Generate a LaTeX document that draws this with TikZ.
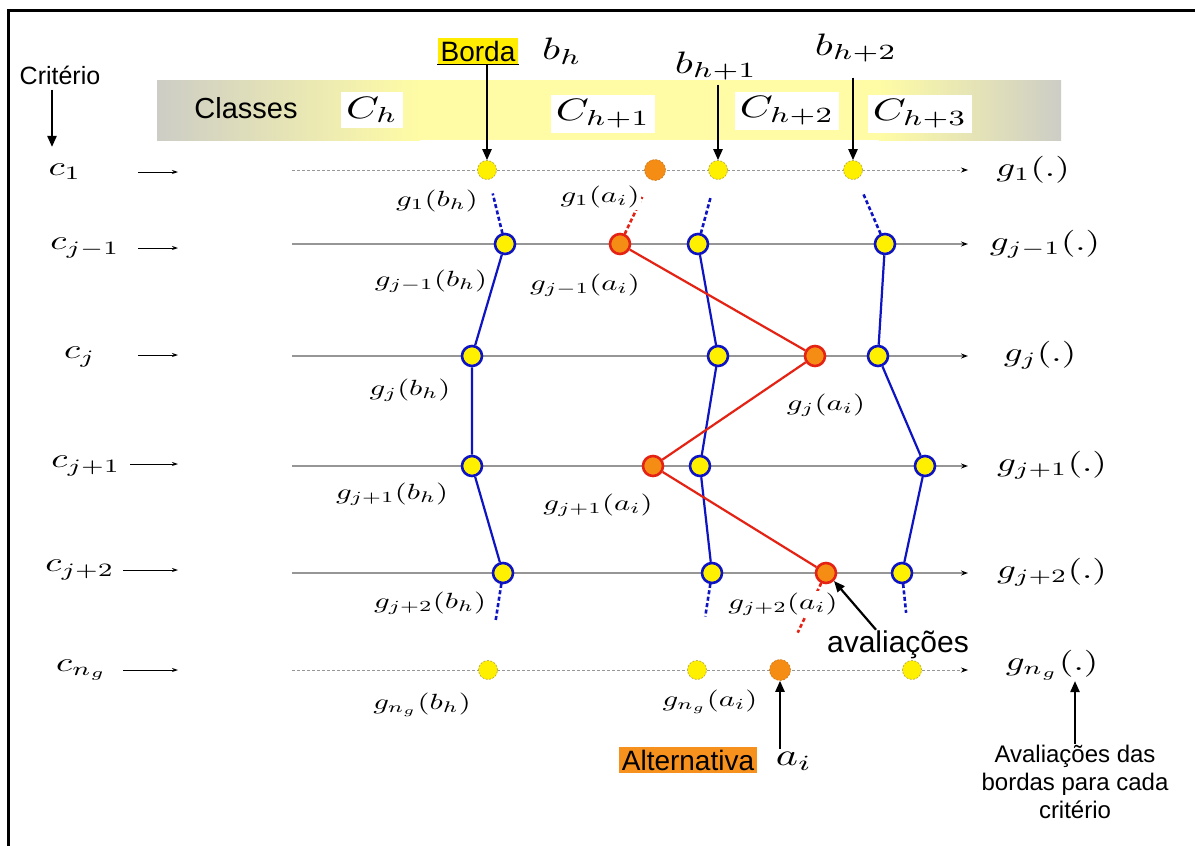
\documentclass[tikz,border=0pt]{standalone}
\usepackage{fontspec}
\setsansfont{Liberation Sans}
\usepackage{graphicx}
\usetikzlibrary{arrows.meta,calc}
\definecolor{ptyellow}{RGB}{255,240,0}
\definecolor{ptorange}{RGB}{245,140,20}
\definecolor{ptblue}{RGB}{15,20,195}
\definecolor{ptred}{RGB}{228,35,20}
\definecolor{bandgray}{RGB}{205,205,198}
\definecolor{bandyellow}{RGB}{255,252,165}
\definecolor{axisgray}{RGB}{150,150,150}
\definecolor{ydash}{RGB}{175,160,60}
\definecolor{bordayellow}{RGB}{255,236,0}
\definecolor{altorange}{RGB}{247,145,30}
\newcommand{\ptm}[1]{\scalebox{3.08}[2.2]{$#1$}}
\newcommand{\rtm}[1]{\scalebox{3.7}[2.7]{$#1$}}
\newcommand{\ttm}[1]{\scalebox{4.2}[3.1]{$#1$}}
\begin{document}
\begin{tikzpicture}[x=1pt,y=-1pt,
  axis/.style={draw=axisgray, line width=1.6pt, -{Stealth[length=7pt,width=5pt,black]}},
  daxis/.style={draw=axisgray, line width=0.8pt, dash pattern=on 3pt off 2pt, -{Stealth[length=7pt,width=5pt,black]}},
  bigarrow/.style={draw=black, line width=2.2pt, -{Triangle[length=11pt,width=9pt]}},
  smallarrow/.style={draw=black, line width=0.9pt, -{Stealth[length=6pt,width=4pt]}},
  ydpt/.style={circle, fill=ptyellow, draw=ydash, line width=0.6pt, dash pattern=on 2pt off 1.5pt, minimum size=19pt, inner sep=0pt},
  odpt/.style={circle, fill=ptorange, draw=ptorange!80!black, line width=0.5pt, dash pattern=on 2pt off 1.5pt, minimum size=21pt, inner sep=0pt},
  ybpt/.style={circle, fill=ptyellow, draw=ptblue, line width=2.6pt, minimum size=20pt, inner sep=0pt},
  robpt/.style={circle, fill=ptorange, draw=ptred, line width=2.6pt, minimum size=20pt, inner sep=0pt},
  bline/.style={draw=ptblue, line width=2.2pt},
  rline/.style={draw=ptred, line width=2.2pt},
  bstub/.style={draw=ptblue, line width=2.6pt, dash pattern=on 4pt off 2.5pt},
  rstub/.style={draw=ptred, line width=2.6pt, dash pattern=on 4pt off 2.5pt},
  pl/.style={inner sep=1.5pt, fill=white},
  rl/.style={inner sep=1pt},
  tl/.style={inner sep=1pt},
  cbox/.style={fill=white, inner sep=5pt},
  sans/.style={inner sep=1pt, font=\sffamily\fontsize{25}{29}\selectfont},
]
\useasboundingbox (0,0) rectangle (1195,846);
\fill[white] (0,0) rectangle (1195,846);
\draw[line width=3pt] (8,846) -- (8,10) -- (1195,10);

% class band
\shade[left color=bandgray, right color=bandyellow] (157,80) rectangle (420,140);
\fill[bandyellow] (419,80) rectangle (880,140);
\shade[left color=bandyellow, right color=bandgray] (879,80) rectangle (1061,140);
\node[sans, font=\sffamily\fontsize{29}{32}\selectfont] (classes) at (246,108) {Classes};
\node[cbox] (Ch) at (372,110) {\ttm{C_h}};
\node[cbox] (Ch1) at (603,114) {\ttm{C_{h+1}}};
\node[cbox] (Ch2) at (787,111) {\ttm{C_{h+2}}};
\node[cbox] (Ch3) at (920,114) {\ttm{C_{h+3}}};

% top labels
\node[sans, fill=bordayellow, inner xsep=3pt, inner ysep=3pt, font=\sffamily\fontsize{28}{32}\selectfont] (borda) at (478,51) {Borda};
\draw[line width=1.5pt] (borda.south west) -- (borda.south east);
\node[tl] (bh) at (562,51) {\ttm{b_h}};
\node[tl] (bh1) at (716,66) {\ttm{b_{h+1}}};
\node[tl] (bh2) at (856,48) {\ttm{b_{h+2}}};

% criterion header
\node[sans, font=\sffamily\fontsize{25}{29}\selectfont] (crit) at (60,75) {Critério};

% axis lines
\foreach \r/\y in {1/170,2/244,3/356,4/466,5/573,6/670}{
  \coordinate (L\r s) at (292,\y);
  \coordinate (L\r e) at (968,\y);
}
\draw[daxis] (L1s) -- (L1e);
\draw[axis] (L2s) -- (L2e);
\draw[axis] (L3s) -- (L3e);
\draw[axis] (L4s) -- (L4e);
\draw[axis] (L5s) -- (L5e);
\draw[daxis] (L6s) -- (L6e);

% left criterion labels
\node[rl] (c1) at (65,172) {\rtm{c_1}};
\node[rl] (c2) at (85,248) {\rtm{c_{j-1}}};
\node[rl] (c3) at (80,357) {\rtm{c_j}};
\node[rl] (c4) at (86,466) {\rtm{c_{j+1}}};
\node[rl] (c5) at (80,570) {\rtm{c_{j+2}}};
\node[rl] (c6) at (82,670) {\rtm{c_{n_g}}};
\foreach \r/\y/\xa in {1/172/138,2/248/138,3/355/138,4/464/130,5/570/123,6/670/123}{
  \coordinate (A\r s) at (\xa,\y);
  \coordinate (A\r e) at (178,\y);
}
\foreach \r in {1,...,6}{ \draw[smallarrow] (A\r s) -- (A\r e); }
\draw[bigarrow] ([xshift=-8pt,yshift=-4pt]crit.south) -- ([xshift=-13pt,yshift=16pt]c1.north);

% right labels
\node[rl] (g1) at (1033,170) {\rtm{g_1(.)}};
\node[rl] (g2) at (1045,244) {\rtm{g_{j-1}(.)}};
\node[rl] (g3) at (1040,355) {\rtm{g_j(.)}};
\node[rl] (g4) at (1052,465) {\rtm{g_{j+1}(.)}};
\node[rl] (g5) at (1052,572) {\rtm{g_{j+2}(.)}};
\node[rl] (g6) at (1052,665) {\rtm{g_{n_g}(.)}};

% points
\node[ydpt] (P1a) at (487,170) {};
\node[odpt] (P1o) at (655,170) {};
\node[ydpt] (P1b) at (718,170) {};
\node[ydpt] (P1c) at (853,170) {};

\node[ybpt] (P2a) at (505,244) {};
\node[robpt] (P2o) at (620,244) {};
\node[ybpt] (P2b) at (698,244) {};
\node[ybpt] (P2c) at (885,244) {};

\node[ybpt] (P3a) at (472,356) {};
\node[ybpt] (P3b) at (718,356) {};
\node[robpt] (P3o) at (815,356) {};
\node[ybpt] (P3c) at (878,356) {};

\node[ybpt] (P4a) at (472,466) {};
\node[robpt] (P4o) at (653,466) {};
\node[ybpt] (P4b) at (700,466) {};
\node[ybpt] (P4c) at (925,466) {};

\node[ybpt] (P5a) at (503,573) {};
\node[ybpt] (P5b) at (712,573) {};
\node[robpt] (P5o) at (826,573) {};
\node[ybpt] (P5c) at (902,573) {};

\node[ydpt] (P6a) at (488,670) {};
\node[ydpt] (P6b) at (697,670) {};
\node[odpt] (P6o) at (780,670) {};
\node[ydpt] (P6c) at (912,670) {};

% profiles
\draw[bline] (P2a) -- (P3a) -- (P4a) -- (P5a);
\draw[bline] (P2b) -- (P3b) -- (P4b) -- (P5b);
\draw[bline] (P2c) -- (P3c) -- (P4c) -- (P5c);
\draw[rline] (P2o) -- (P3o) -- (P4o) -- (P5o);

% dashed stubs
\draw[bstub] ($(P2a)!11pt!(P1a)$) -- ($(P2a)!52pt!(P1a)$);
\draw[bstub] ($(P2b)!11pt!(P1b)$) -- ($(P2b)!50pt!(P1b)$);
\draw[bstub] ($(P2c)!11pt!(P1c)$) -- ($(P2c)!55pt!(P1c)$);
\draw[rstub] ($(P2o)!11pt!(P1o)$) -- ($(P2o)!52pt!(P1o)$);
\draw[bstub] ($(P5a)!11pt!(P6a)$) -- ($(P5a)!48pt!(P6a)$);
\draw[bstub] ($(P5b)!11pt!(P6b)$) -- ($(P5b)!44pt!(P6b)$);
\draw[bstub] ($(P5c)!11pt!(P6c)$) -- ($(P5c)!40pt!(P6c)$);
\draw[rstub] ($(P5o)!11pt!(P6o)$) -- ($(P5o)!66pt!(P6o)$);

% point labels
\node[pl] (l1a) at (437,201) {\ptm{g_1(b_h)}};
\node[pl] (l1o) at (600,197) {\ptm{g_1(a_i)}};
\node[pl] (l2a) at (431,281) {\ptm{g_{j-1}(b_h)}};
\node[pl] (l2o) at (585,285) {\ptm{g_{j-1}(a_i)}};
\node[pl] (l3a) at (410,390) {\ptm{g_j(b_h)}};
\node[pl] (l3o) at (826,405) {\ptm{g_j(a_i)}};
\node[pl] (l4a) at (392,494) {\ptm{g_{j+1}(b_h)}};
\node[pl] (l4o) at (598,505) {\ptm{g_{j+1}(a_i)}};
\node[pl] (l5a) at (430,603) {\ptm{g_{j+2}(b_h)}};
\node[pl] (l5o) at (783,604) {\ptm{g_{j+2}(a_i)}};
\node[pl] (l6a) at (422,705) {\ptm{g_{n_g}(b_h)}};
\node[pl] (l6o) at (710,702) {\ptm{g_{n_g}(a_i)}};

% top arrows
\draw[bigarrow] (borda.south -| P1a) -- (P1a.north);
\draw[bigarrow] ([yshift=-3pt]bh1.south -| P1b) -- (P1b.north);
\draw[bigarrow] ([yshift=-14pt]bh2.south -| P1c) -- (P1c.north);

% bottom annotations
\node[sans, font=\sffamily\fontsize{30}{34}\selectfont] (aval) at (898,645) {avaliações};
\draw[bigarrow] ([xshift=-22pt]aval.north) -- (P5o.south east);

\node[sans, fill=altorange, inner sep=3pt, font=\sffamily\fontsize{28}{32}\selectfont] (alt) at (688,760) {Alternativa};
\node[tl] (ai) at (794,761) {\ttm{a_i}};
\draw[bigarrow] ([yshift=2pt]ai.north -| P6o) -- (P6o.south);

\node[sans, align=center, font=\sffamily\fontsize{24}{28}\selectfont] (avb) at (1075,782) {Avaliações das\\bordas para cada\\critério};
\draw[bigarrow] (avb.north) -- (avb.north |- g6.south);
\end{tikzpicture}
\end{document}
